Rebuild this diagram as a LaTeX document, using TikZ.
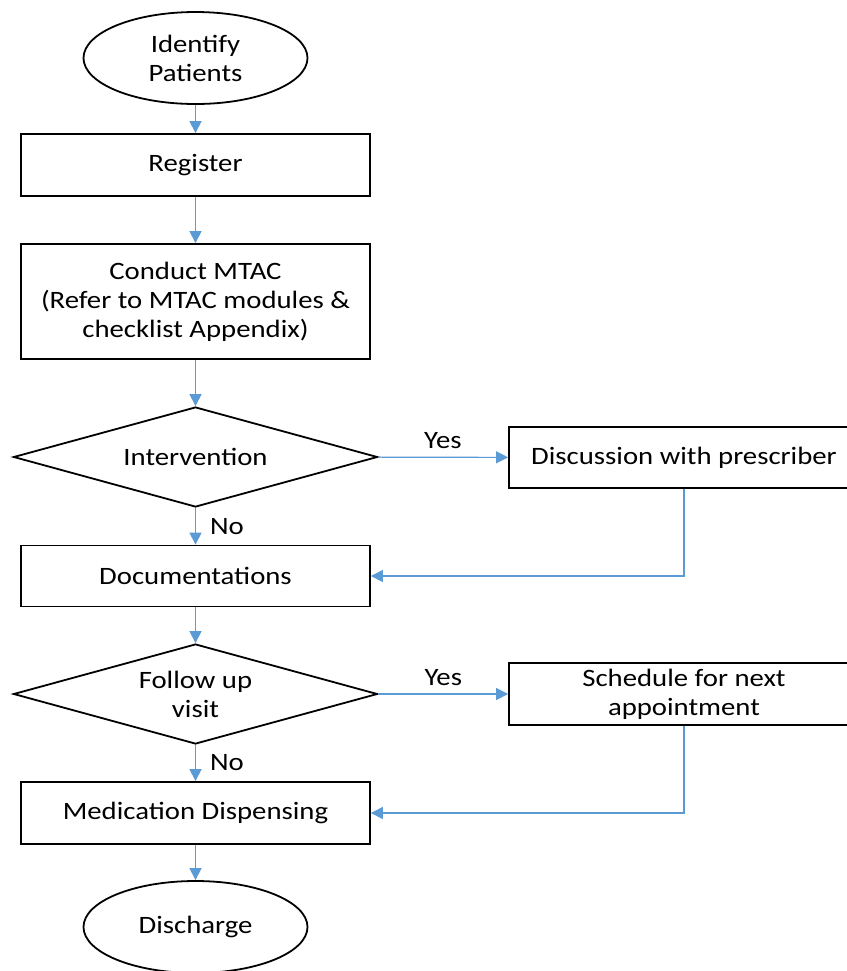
\documentclass[tikz,border=0pt]{standalone}
\usepackage{fontspec}
\setmainfont{Carlito}[FakeStretch=1.15]
\usetikzlibrary{shapes.geometric,arrows.meta}
\definecolor{arrowblue}{RGB}{91,155,213}
\begin{document}
\begin{tikzpicture}[x=0.5pt,y=-0.5pt,
  every node/.style={font=\fontsize{12.5pt}{14.5pt}\selectfont, align=center},
  term/.style={ellipse, draw=black, line width=0.9pt, inner sep=0pt, minimum width=112pt, minimum height=46pt},
  procbox/.style={rectangle, draw=black, line width=0.9pt, inner sep=0pt, minimum width=174.5pt},
  sidebox/.style={rectangle, draw=black, line width=0.9pt, inner sep=0pt, minimum width=175pt},
  decision/.style={diamond, draw=black, line width=0.9pt, inner sep=0pt, aspect=3.64, minimum width=182pt, minimum height=50pt},
  flow/.style={draw=arrowblue, line width=0.55pt, -{Triangle[length=6pt,width=6pt]}},
  lbl/.style={font=\fontsize{12.5pt}{14.5pt}\selectfont, inner sep=2pt}
]
\clip (0,0) rectangle (847,971);
\fill[white] (0,0) rectangle (847,971);

\node[term] (idp) at (195.5,58) {Identify\\Patients};
\node[procbox, minimum height=31pt] (reg) at (195.5,165) {Register};
\node[procbox, minimum height=57.5pt] (mtac) at (195.5,301.5) {Conduct MTAC\\(Refer to MTAC modules \&\\checklist Appendix)};
\node[decision] (intv) at (195.5,457) {Intervention};
\node[sidebox, minimum height=30.5pt] (disc) at (684,457.5) {Discussion with prescriber};
\node[procbox, minimum height=30.5pt] (doc) at (195.5,576) {Documentations};
\node[decision] (fup) at (195.5,694) {Follow up\\visit};
\node[sidebox, minimum height=31pt] (sched) at (684,694) {Schedule for next\\appointment};
\node[procbox, minimum height=31pt] (med) at (195.5,813) {Medication Dispensing};
\node[term] (dis) at (195.5,927) {Discharge};

\draw[flow] (idp) -- (reg);
\draw[flow] (reg) -- (mtac);
\draw[flow] (mtac) -- (intv);
\draw[flow] (intv) -- node[lbl, above=2pt] {Yes} (disc);
\draw[flow] (intv) -- node[lbl, right=5pt] {No} (doc);
\draw[flow] (disc.south) |- (doc.east);
\draw[flow] (doc) -- (fup);
\draw[flow] (fup) -- node[lbl, above=2pt] {Yes} (sched);
\draw[flow] (fup) -- node[lbl, right=5pt] {No} (med);
\draw[flow] (sched.south) |- (med.east);
\draw[flow] (med) -- (dis);
\end{tikzpicture}
\end{document}
